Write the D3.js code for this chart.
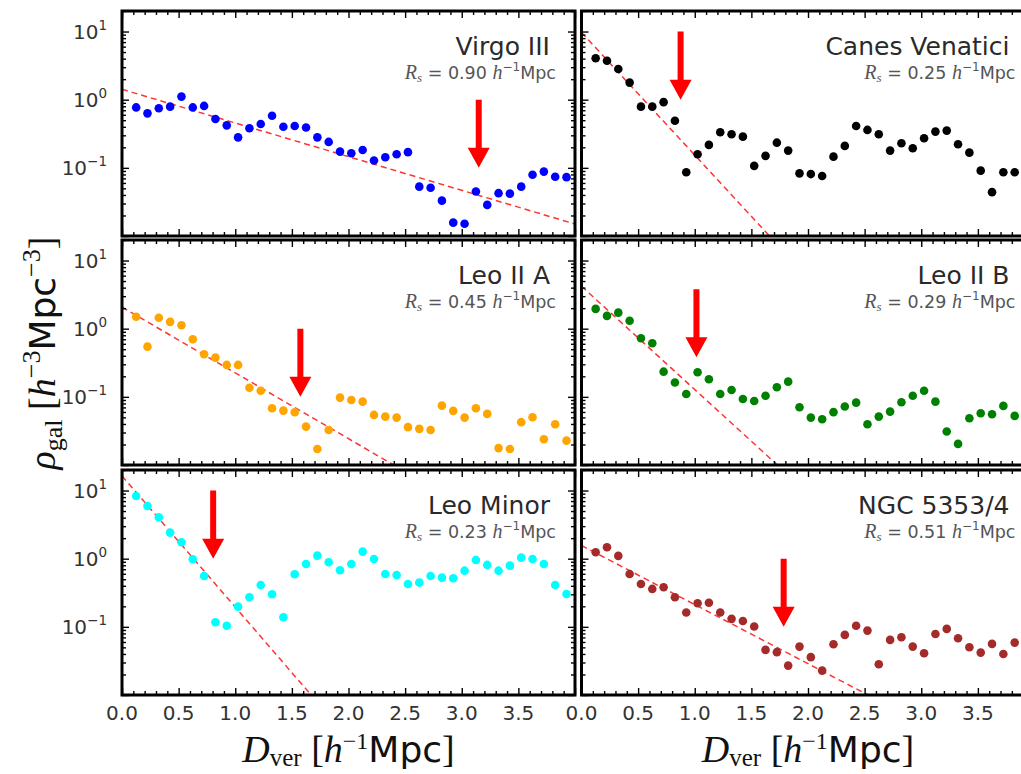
<!DOCTYPE html>
<html>
<head>
<meta charset="utf-8">
<script src="https://cdn.jsdelivr.net/npm/d3@7"></script>
<style>
    body { margin: 0; background: #fff; }
    svg text { font-family: "DejaVu Sans", sans-serif; }
</style>
</head>
<body>
<div class="chart"></div>
<script>
// vertical distance bins (same for every group)
const dVer = [0.125, 0.225, 0.325, 0.425, 0.525, 0.625, 0.725, 0.825, 0.925, 1.025,
    1.125, 1.225, 1.325, 1.425, 1.525, 1.625, 1.725, 1.825, 1.925, 2.025,
    2.125, 2.225, 2.325, 2.425, 2.525, 2.625, 2.725, 2.825, 2.925, 3.025,
    3.125, 3.225, 3.325, 3.425, 3.525, 3.625, 3.725, 3.825, 3.925];

// galaxy densities per group
const virgoIII = [0.77, 0.63, 0.75, 0.79, 1.11, 0.77, 0.81, 0.52, 0.42, 0.28, 0.38, 0.44, 0.58,
    0.40, 0.41, 0.39, 0.28, 0.24, 0.173, 0.164, 0.183, 0.128, 0.143, 0.158, 0.17, 0.053,
    0.051, 0.033, 0.0157, 0.0151, 0.045, 0.0286, 0.0425, 0.0418, 0.053, 0.079, 0.088, 0.074, 0.073];
const canesVenatici = [4.05, 3.73, 2.82, 1.78, 0.79, 0.79, 0.92, 0.49, 0.086, 0.158, 0.217, 0.333,
    0.311, 0.287, 0.107, 0.15, 0.234, 0.179, 0.083, 0.081, 0.076, 0.146, 0.21, 0.41, 0.36, 0.311,
    0.179, 0.23, 0.194, 0.272, 0.34, 0.352, 0.222, 0.167, 0.091, 0.044, 0.086, 0.086, 0.09];
const leoIIA = [1.5, 0.545, 1.45, 1.26, 1.12, 0.70, 0.422, 0.376, 0.294, 0.294, 0.136, 0.123, 0.068,
    0.0628, 0.0595, 0.0366, 0.0172, 0.0327, 0.0975, 0.090, 0.085, 0.0543, 0.0513, 0.0496, 0.0359,
    0.0339, 0.0327, 0.0743, 0.0622, 0.0496, 0.068, 0.0562, 0.0177, 0.0172, 0.0425, 0.0502, 0.0239,
    0.0397, 0.0228];
const leoIIB = [1.95, 1.54, 1.72, 1.31, 0.724, 0.611, 0.234, 0.162, 0.110, 0.23, 0.181, 0.110, 0.126,
    0.093, 0.087, 0.104, 0.138, 0.167, 0.0705, 0.0496, 0.047, 0.0596, 0.072, 0.0822, 0.0397, 0.0513,
    0.0607, 0.0834, 0.104, 0.123, 0.085, 0.031, 0.0204, 0.0486, 0.0575, 0.0556, 0.0736, 0.0525, 0.05];
const leoMinor = [8.3, 5.93, 4.05, 2.41, 1.74, 0.98, 0.558, 0.117, 0.104, 0.198, 0.272, 0.412, 0.30,
    0.138, 0.591, 0.837, 1.11, 0.887, 0.676, 0.837, 1.27, 0.99, 0.597, 0.577, 0.426, 0.446, 0.558,
    0.527, 0.516, 0.667, 0.957, 0.81, 0.667, 0.79, 1.035, 0.99, 0.837, 0.412, 0.304];
const ngc5353 = [1.24, 1.47, 1.10, 0.597, 0.426, 0.36, 0.381, 0.272, 0.162, 0.222, 0.226, 0.162, 0.131,
    0.122, 0.101, 0.0459, 0.0425, 0.027, 0.0513, 0.0359, 0.0228, 0.0556, 0.0762, 0.104, 0.088,
    0.0283, 0.0643, 0.0705, 0.0513, 0.041, 0.0787, 0.0933, 0.068, 0.0502, 0.0419, 0.0562, 0.040,
    0.0587, 0.05];

const groupNames = ['Virgo III', 'Canes Venatici', 'Leo II A', 'Leo II B', 'Leo Minor', 'NGC 5353/4'];
const groupSeries = [virgoIII, canesVenatici, leoIIA, leoIIB, leoMinor, ngc5353];
const rsLabels = ['0.90', '0.25', '0.45', '0.29', '0.23', '0.51'];

// exponential fits (straight in log space): endpoints
const fitX = [[0, 4], [0, 1.66], [0, 2.40], [0, 1.73], [0, 1.67], [0, 2.53]];
const fitY = [[1.42, 0.015], [9.7, 0.01], [2.07, 0.01], [4.2, 0.01], [16.4, 0.01], [1.56, 0.01]];

// arrows marking the cut radius
const arrowX = [3.15, 0.875, 1.575, 1.015, 0.805, 1.785];
const arrowTop = [1, 10, 1, 3.8, 10, 1];
const arrowTip = [0.1, 1, 0.1, 0.38, 1, 0.1];

const xTicks = [0, 0.5, 1.0, 1.5, 2.0, 2.5, 3.0, 3.5];
const yTicks = [10, 1, 0.1];
const yTickExp = ['1', '0', '\u22121'];

const width = 1021,
    height = 774,
    colLeft = [122, 581.5],
    rowTop = [11, 240, 470],
    panelW = 453,
    panelH = 225,
    colors = ['#0000ff', '#000000', '#ffa500', '#008000', '#00ffff', '#a52a2a'];

const svg = d3.select('.chart')
    .append('svg')
    .attr('width', width)
    .attr('height', height)
    .style('background', '#fff');

const serif = '"Liberation Serif", "DejaVu Serif", serif';

// minor ticks
const xMinor = d3.range(0, 41).map(i => i / 10).filter(v => Math.round(v * 10) % 5 !== 0);
const yMinor = [];
[0.01, 0.1, 1, 10].forEach(dec => {
    for (let m = 2; m <= 9; m++) {
        if (dec * m <= 20) yMinor.push(dec * m);
    }
});

function drawTicks(g, axis, values, size) {
    g.call(axis.tickValues(values).tickSize(size).tickFormat(''))
        .call(a => a.select('.domain').remove())
        .selectAll('line')
        .attr('stroke', '#000')
        .attr('stroke-width', 1.4);
}

groupNames.forEach((name, k) => {
    const col = k % 2,
        row = Math.floor(k / 2),
        x0 = colLeft[col],
        y0 = rowTop[row];

    const x = d3.scaleLinear().domain([0, 4]).range([x0, x0 + panelW]);
    const y = d3.scaleLog().domain([0.01, 20]).range([y0 + panelH, y0]);

    const g = svg.append('g');

    g.append('clipPath')
        .attr('id', 'clip' + k)
        .append('rect')
        .attr('x', x0).attr('y', y0)
        .attr('width', panelW).attr('height', panelH);

    const plot = g.append('g').attr('clip-path', `url(#clip${k})`);

    // fitted profile
    const fit = fitX[k].map((v, i) => [v, fitY[k][i]]);
    plot.append('path')
        .datum(fit)
        .attr('d', d3.line().x(d => x(d[0])).y(d => y(d[1])))
        .attr('fill', 'none')
        .attr('stroke', '#ff0000')
        .attr('stroke-opacity', 0.8)
        .attr('stroke-width', 1.5)
        .attr('stroke-dasharray', '6,4');

    // measured densities
    plot.selectAll('circle')
        .data(groupSeries[k].map((v, i) => ({ d: dVer[i], rho: v })))
        .enter().append('circle')
        .attr('cx', d => x(d.d))
        .attr('cy', d => y(d.rho))
        .attr('r', 4.3)
        .attr('fill', colors[k]);

    // arrow
    const ax = x(arrowX[k]),
        aTop = y(arrowTop[k]),
        aTip = y(arrowTip[k]),
        head = 20;
    g.append('path')
        .attr('d', `M${ax - 3},${aTop} L${ax + 3},${aTop} L${ax + 3},${aTip - head} L${ax + 11},${aTip - head}
            L${ax},${aTip} L${ax - 11},${aTip - head} L${ax - 3},${aTip - head} Z`)
        .attr('fill', '#ff0000');

    // inward ticks on all four sides
    drawTicks(g.append('g').attr('transform', `translate(0,${y0 + panelH})`), d3.axisBottom(x), xTicks.concat([4]), -7);
    drawTicks(g.append('g').attr('transform', `translate(0,${y0 + panelH})`), d3.axisBottom(x), xMinor, -4);
    drawTicks(g.append('g').attr('transform', `translate(0,${y0})`), d3.axisTop(x), xTicks.concat([4]), -7);
    drawTicks(g.append('g').attr('transform', `translate(0,${y0})`), d3.axisTop(x), xMinor, -4);
    drawTicks(g.append('g').attr('transform', `translate(${x0},0)`), d3.axisLeft(y), [0.01, 0.1, 1, 10], -7);
    drawTicks(g.append('g').attr('transform', `translate(${x0},0)`), d3.axisLeft(y), yMinor, -4);
    drawTicks(g.append('g').attr('transform', `translate(${x0 + panelW},0)`), d3.axisRight(y), [0.01, 0.1, 1, 10], -7);
    drawTicks(g.append('g').attr('transform', `translate(${x0 + panelW},0)`), d3.axisRight(y), yMinor, -4);

    // frame
    g.append('rect')
        .attr('x', x0).attr('y', y0)
        .attr('width', panelW).attr('height', panelH)
        .attr('fill', 'none')
        .attr('stroke', '#000')
        .attr('stroke-width', 3);

    // group name + scale radius
    g.append('text')
        .attr('x', x0 + panelW - 25)
        .attr('y', y0 + 44)
        .attr('text-anchor', 'end')
        .attr('font-size', 25)
        .attr('fill', '#2a2a2a')
        .text(name);

    const rs = g.append('text')
        .attr('x', x0 + panelW - 19)
        .attr('y', y0 + 68)
        .attr('text-anchor', 'end')
        .attr('font-size', 17.5)
        .attr('fill', '#555');
    rs.append('tspan').attr('font-family', serif).attr('font-style', 'italic').attr('font-size', 20).text('R');
    rs.append('tspan').attr('font-family', serif).attr('font-style', 'italic').attr('font-size', 13).attr('dy', 3).text('s');
    rs.append('tspan').attr('dy', -3).text(' = ' + rsLabels[k] + ' ');
    rs.append('tspan').attr('font-family', serif).attr('font-style', 'italic').attr('font-size', 20).text('h');
    rs.append('tspan').attr('font-size', 12).attr('dy', -8).text('\u22121');
    rs.append('tspan').attr('dy', 8).text('Mpc');

    // tick labels
    if (col === 0) {
        yTicks.forEach((v, i) => {
            const t = g.append('text')
                .attr('x', x0 - 15)
                .attr('y', y(v) + 7)
                .attr('text-anchor', 'end')
                .attr('font-size', 20)
                .attr('fill', '#333');
            t.append('tspan').text('10');
            t.append('tspan').attr('font-size', 13.5).attr('dy', -9).text(yTickExp[i]);
        });
    }
    if (row === 2) {
        g.selectAll('.xlab')
            .data(xTicks)
            .enter().append('text')
            .attr('x', d => x(d))
            .attr('y', y0 + panelH + 25)
            .attr('text-anchor', 'middle')
            .attr('font-size', 20)
            .attr('fill', '#333')
            .text(d => d.toFixed(1));
    }
});

// x axis titles
colLeft.forEach(x0 => {
    const t = svg.append('text')
        .attr('x', x0 + panelW / 2)
        .attr('y', 762)
        .attr('text-anchor', 'middle')
        .attr('font-size', 38)
        .attr('fill', '#111');
    t.append('tspan').attr('font-family', serif).attr('font-style', 'italic').text('D');
    t.append('tspan').attr('font-family', serif).attr('font-size', 25).attr('dy', 4).text('ver');
    t.append('tspan').attr('font-family', serif).attr('dy', -4).text(' [');
    t.append('tspan').attr('font-family', serif).attr('font-style', 'italic').text('h');
    t.append('tspan').attr('font-family', serif).attr('font-size', 24).attr('dy', -13).text('\u22121');
    t.append('tspan').attr('dy', 13).attr('font-size', 36).text('Mpc');
    t.append('tspan').attr('font-family', serif).text(']');
});

// y axis title
const yt = svg.append('text')
    .attr('transform', `translate(55,${(rowTop[0] + rowTop[2] + panelH) / 2}) rotate(-90)`)
    .attr('text-anchor', 'middle')
    .attr('font-size', 38)
    .attr('fill', '#111');
yt.append('tspan').attr('font-family', serif).attr('font-style', 'italic').text('\u03c1');
yt.append('tspan').attr('font-family', serif).attr('font-size', 26).attr('dy', 7).text('gal');
yt.append('tspan').attr('font-family', serif).attr('dy', -7).text(' [');
yt.append('tspan').attr('font-family', serif).attr('font-style', 'italic').text('h');
yt.append('tspan').attr('font-family', serif).attr('font-size', 26).attr('dy', -15).text('\u22123');
yt.append('tspan').attr('dy', 15).attr('font-size', 36).text('Mpc');
yt.append('tspan').attr('font-family', serif).attr('font-size', 26).attr('dy', -15).text('\u22123');
yt.append('tspan').attr('font-family', serif).attr('dy', 15).text(']');
</script>
</body>
</html>
